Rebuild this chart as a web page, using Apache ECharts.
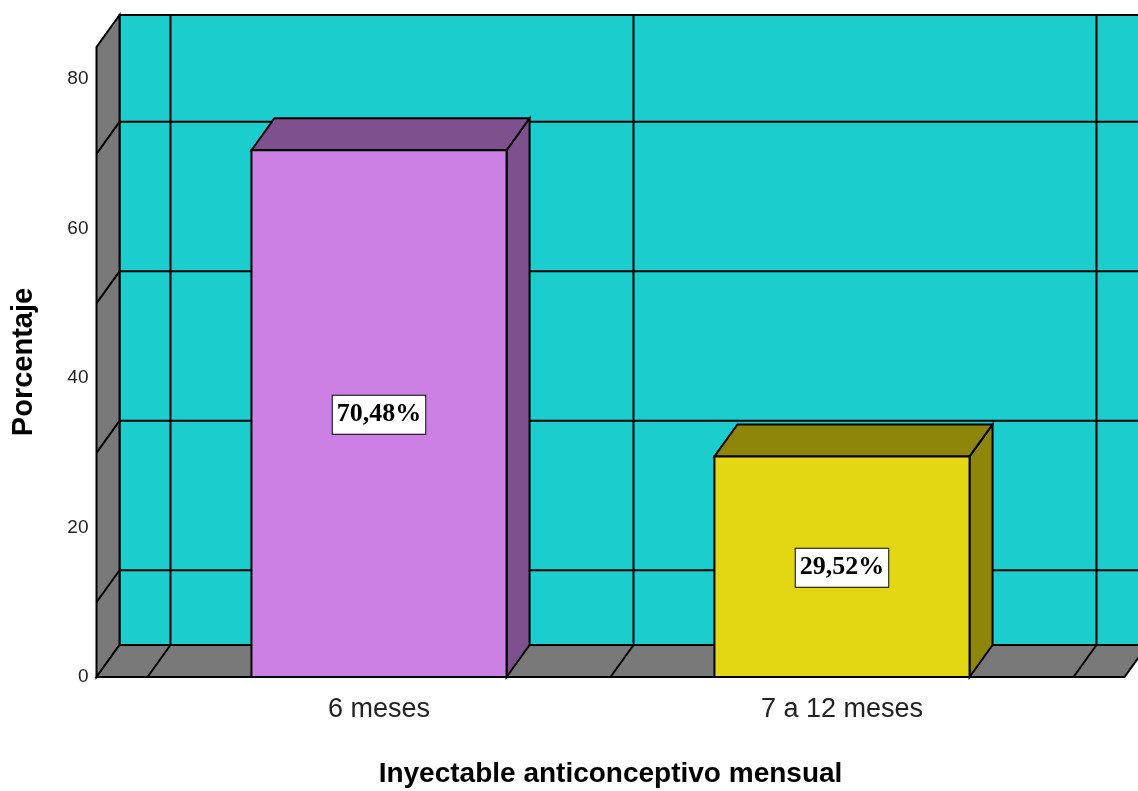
<!DOCTYPE html>
<html>
<head>
<meta charset="utf-8">
<script src="https://cdn.jsdelivr.net/npm/echarts@6/dist/echarts.min.js"></script>
<style>
  html, body { margin: 0; padding: 0; background: #fff; }
  #chart { width: 1138px; height: 791px; }
</style>
</head>
<body>
<div id="chart"></div>
<script>
// data
var categories = ['6 meses', '7 a 12 meses'];
var percentValues = [70.48, 29.52];
var percentLabels = ['70,48%', '29,52%'];
var yTicks = [0, 20, 40, 60, 80];
var backGridValues = [10, 30, 50, 70];

var yMax = 84.3;
var depthX = 23, depthY = -32;   // 3D offset of the back plane
var sidePad = 51;                // floor runs past the category bands
var frontColors = ['#cc80e3', '#e2d712'];
var darkColors = ['#7f508e', '#8e860a'];
var wallColor = '#1ccdce';
var greyColor = '#797979';
var sans = '"Liberation Sans", Arial, sans-serif';

var chart = echarts.init(document.getElementById('chart'));

function line(x1, y1, x2, y2) {
  return { type: 'line', shape: { x1: x1, y1: y1, x2: x2, y2: y2 },
           style: { stroke: '#000', lineWidth: 2 } };
}
function poly(points, fill) {
  return { type: 'polygon', shape: { points: points },
           style: { fill: fill, stroke: '#000', lineWidth: 2 } };
}

function renderWalls(params, api) {
  var cs = params.coordSys;
  var left = cs.x - sidePad, right = cs.x + cs.width + sidePad;
  var y0 = api.coord([0, 0])[1];
  var yTop = api.coord([0, yMax])[1];
  var kids = [];
  // back wall
  kids.push(poly([[left + depthX, yTop + depthY], [right + depthX + 40, yTop + depthY],
                  [right + depthX + 40, y0 + depthY], [left + depthX, y0 + depthY]], wallColor));
  // left wall
  kids.push(poly([[left, y0], [left + depthX, y0 + depthY],
                  [left + depthX, yTop + depthY], [left, yTop]], greyColor));
  // floor
  kids.push(poly([[left, y0], [left + depthX, y0 + depthY],
                  [right + depthX, y0 + depthY], [right, y0]], greyColor));
  // back grid lines and left wall diagonals
  backGridValues.forEach(function (v) {
    var y = api.coord([0, v])[1];
    kids.push(line(left + depthX, y + depthY, right + depthX + 40, y + depthY));
    kids.push(line(left, y, left + depthX, y + depthY));
  });
  // category boundaries on back wall and floor
  var bw = api.size([1, 0])[0];
  for (var i = 0; i <= categories.length; i++) {
    var x = cs.x + i * bw;
    kids.push(line(x + depthX, yTop + depthY, x + depthX, y0 + depthY));
    kids.push(line(x, y0, x + depthX, y0 + depthY));
  }
  return { type: 'group', children: kids };
}

function renderBar(params, api) {
  var idx = params.dataIndex;
  var v = api.value(1);
  var base = api.coord([api.value(0), 0]);
  var top = api.coord([api.value(0), v]);
  var w = api.size([1, 0])[0] * 0.551;
  var x1 = base[0] - w / 2, x2 = base[0] + w / 2;
  var dark = darkColors[idx];
  return {
    type: 'group',
    children: [
      poly([[x2, base[1]], [x2 + depthX, base[1] + depthY],
            [x2 + depthX, top[1] + depthY], [x2, top[1]]], dark),
      poly([[x1, top[1]], [x1 + depthX, top[1] + depthY],
            [x2 + depthX, top[1] + depthY], [x2, top[1]]], dark),
      poly([[x1, base[1]], [x1, top[1]], [x2, top[1]], [x2, base[1]]], frontColors[idx]),
      {
        type: 'text',
        x: base[0], y: (base[1] + top[1]) / 2 + 1,
        style: {
          text: percentLabels[idx],
          font: 'bold 26px "Liberation Serif", "DejaVu Serif", serif',
          fill: '#000', align: 'center', verticalAlign: 'middle',
          backgroundColor: '#fff', borderColor: '#000', borderWidth: 1,
          padding: [7, 4, 5, 4]
        }
      }
    ]
  };
}

chart.setOption({
  animation: false,
  grid: { left: 147.5, right: 64.5, top: 47, bottom: 114, outerBoundsMode: 'none' },
  xAxis: {
    type: 'category',
    data: categories,
    name: 'Inyectable anticonceptivo mensual',
    nameLocation: 'middle',
    nameGap: 83,
    nameTextStyle: { fontFamily: sans, fontWeight: 'bold', fontSize: 28, color: '#000' },
    axisLine: { show: false },
    axisTick: { show: false },
    axisLabel: { margin: 19, fontFamily: sans, fontSize: 27, color: '#222' },
    splitLine: { show: false }
  },
  yAxis: {
    type: 'value',
    min: 0, max: yMax, interval: 20,
    name: 'Porcentaje',
    nameLocation: 'middle',
    nameGap: 109,
    nameTextStyle: { fontFamily: sans, fontWeight: 'bold', fontSize: 29, color: '#000' },
    axisLine: { show: false },
    axisTick: { show: false },
    splitLine: { show: false },
    axisLabel: {
      margin: 59,
      padding: [5, 0, 0, 0],
      fontFamily: sans, fontSize: 19, color: '#222',
      formatter: function (v) { return yTicks.indexOf(v) >= 0 ? String(v) : ''; }
    }
  },
  series: [
    { type: 'custom', renderItem: renderWalls, data: [[0, 0]], z: 1, silent: true, clip: false },
    {
      type: 'custom', renderItem: renderBar, z: 2, clip: false,
      data: categories.map(function (c, i) { return [i, percentValues[i]]; })
    }
  ]
});
</script>
</body>
</html>
